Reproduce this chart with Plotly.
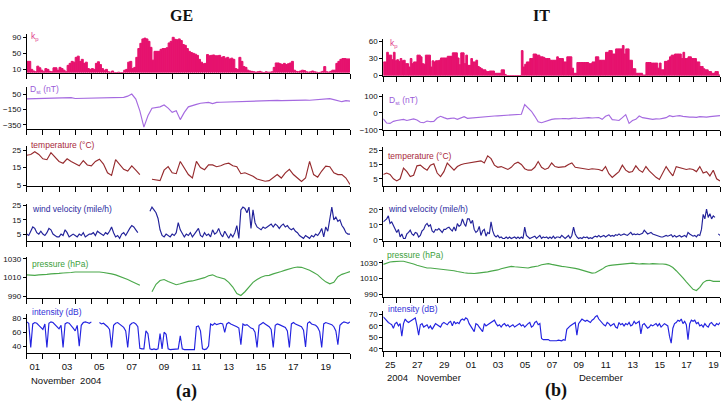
import pandas as pd
import plotly.graph_objects as go

# ---------------- data ----------------
GE_START, GE_END = "2004-11-01", "2004-11-21"
IT_START, IT_END = "2004-11-25", "2004-12-20"

# GE (Nov 2004) ---------------------------------------------------------
ge_kp = [30, 30, 10, 6, 4, 18, 14, 8,
         4, 12, 10, 5, 4, 14, 14, 8,
         15, 12, 8, 4, 20, 25, 30, 28,
         40, 43, 30, 35, 25, 28, 12, 10,
         12, 10, 25, 29, 22, 12, 8, 10,
         4, 3, 6, 2, 2, 3, 2, 2,
         8, 10, 28, 30, 12, 15, 40, 62,
         75, 86, 88, 86, 80, 65, 33, 55,
         55, 55, 60, 62, 62, 64, 76, 80,
         90, 85, 84, 86, 82, 72, 70, 62,
         55, 52, 50, 48, 45, 35, 28, 24,
         25, 47, 44, 45, 46, 44, 44, 45,
         40, 42, 38, 40, 36, 38, 35, 12,
         10, 40, 30, 17, 15, 8, 6, 5,
         4, 3, 4, 5, 3, 2, 4, 3,
         3, 4, 15, 26, 26, 24, 22, 25,
         22, 24, 26, 30, 8, 5, 4, 6,
         8, 7, 4, 3, 4, 6, 4, 3,
         2, 3, 5, 17, 4, 3, 5, 8,
         8, 25, 30, 35, 37, 37, 36, 36]

ge_dst = [-8, -7, -6, -6, -5, -5, -4, -4, -3, -3,
          -2, 8, -3, -2, -2, -1, -1, 0, 0, 2,
          4, 6, 8, 10, 12, 28, 55, -10, -165, -380,
          -230, -131, -122, -113, -88, -130, -186, -165, -281, -186,
          -113, -92, -80, -65, -60, -55, -70, -55, -52, -50,
          -48, -47, -46, -45, -42, -40, -40, -38, -36, -34,
          -30, -22, -28, -30, -28, -30, -32, -30, -26, -24,
          -26, -22, -20, -16, -12, -5, -18, -35, -45, -32,
          -38]

ge_temp = [22, 22.5, 24, 22.5, 20, 19.5, 23.5, 21, 18.5, 17.5,
           20, 18.5, 17, 16, 19, 16.5, 16, 18.5, 19.8, 17,
           12, 10.5, 19.5, 17, 14, 13, 16, 13.5, 11, None,
           None, 8.3, 7.8, 7.5, 13.5, 15.5, 12, 11.5, 18.5, 15,
           11, 9, 18.5, 15, 13.8, 16.5, 16.5, 15.5, 16, 17,
           17.5, 16, 15.5, 11.5, 12, 11, 10, 8.5, 8, 7.2,
           7.5, 9, 11, 9, 12, 14, 11, 9, 7, 9,
           18.5, 11, 9.5, 13, 15.8, 15.5, 12, 11, 11, 9,
           5.3]

ge_wind = [5, 4, 7, 10, 9, 6, 5, 7,
           5, 4, 6, 9, 8, 5, 4, 3,
           3, 5, 4, 8, 6, 3, 4, 5,
           4, 3, 5, 4, 6, 3, 4, 5,
           5, 6, 4, 7, 6, 5, 4, 6,
           5, 7, 10, 6, 3, 4, 2, 5,
           6, 4, 7, 9, 11, 10, 8, 6,
           None, None, 9, None, None, 21, 24, 22,
           20, 16, 8, 4, 3, 5, 4, 3,
           5, 4, 6, 13, 8, 5, 3, 5,
           4, 6, 3, 5, 7, 9, 4, 3,
           6, 4, 5, 3, 8, 5, 6, 9,
           5, 3, 7, 4, 2, 5, 3, 6,
           11, 2, 22, 24, 23, 20, 24, 9,
           22, 13, 10, 9, 8, 10, 9, 10,
           11, 12, 10, 12, 11, 9, 11, 12,
           10, 11, 9, 8, 9, 7, 6, 4,
           3, 2, 4, 3, 2, 4, 3, 5,
           4, 6, 9, 3, 10, 7, 16, 24,
           15, 17, 14, 15, 11, 9, 6, 5,
           5]

ge_pres = [1013, 1012.5, 1012.5, 1013, 1013, 1013.5, 1014, 1014, 1014.5, 1015,
           1015, 1015.5, 1016, 1016, 1016, 1016, 1016.5, 1016, 1016, 1015.5,
           1015, 1014, 1013, 1011.5, 1010, 1008, 1006, 1004, 1002, None,
           None, 995, 1003, 1007, 1008, 1006, 1004, 1002.5, 1003.5, 1005,
           1006, 1006.5, 1007.5, 1008.5, 1010, 1012, 1013, 1011, 1010, 1008.5,
           1005, 1000, 993, 991, 995, 1000, 1005, 1008, 1010.5, 1012,
           1012.5, 1014, 1015, 1016.5, 1018, 1019.5, 1020.5, 1021.3, 1021, 1019.5,
           1018, 1015.5, 1013, 1009, 1005.5, 1003.5, 1005, 1011, 1013.5, 1015,
           1016.4]

ge_int = [75, 73, 38, 72, 74, 73, 70, 67,
          64, 72, 38, 73, 75, 74, 71, 68,
          65, 70, 38, 72, 74, 73, 70, 66,
          62, 70, 40, 70, 74, 75, 74, 73,
          75, None, None, None, 74, 72, 73, 71,
          68, 64, 38, 70, 73, 74, 72, 70,
          67, 62, 38, 70, 73, 74, 72, 68,
          37, 36, 36, 62, 58, 36, 35, 36,
          35, 36, 58, 36, 60, 57, 36, 35,
          35, 36, 35, 36, 55, 36, 35, 35,
          35, 35, 36, 35, 68, 69, 62, 36,
          35, 36, 40, 72, 70, 73, 71, 72,
          73, 72, 60, 72, 74, 72, 71, 70,
          68, 66, 42, 72, 70, 71, 68, 66,
          65, 60, 38, 70, 72, 74, 72, 70,
          68, 64, 38, 70, 72, 71, 70, 69,
          67, 62, 38, 72, 74, 72, 71, 70,
          68, 63, 39, 73, 75, 72, 71, 70,
          67, 61, 38, 72, 74, 73, 72, 71,
          68, 62, 42, 70, 73, 75, 74, 73,
          75]

# IT (Nov 25 - Dec 19 2004) ----------------------------------------------
it_kp = [24, 24, 41, 36, 36, 28, 41, 26,
         28, 25, 30, 26, 27, 21, 21, 15,
         30, 21, 24, 24, 36, 36, 33, 21,
         20, 36, 36, 36, 15, 26, 24, 26,
         26, 27, 31, 31, 31, 31, 34, 34,
         34, 40, 40, 40, 31, 19, 40, 40,
         21, 36, 18, 18, 30, 24, 24, 27,
         16, 14, 12, 10, 10, 7, 7, 8,
         8, 8, 4, 4, 4, 4, 10, 10,
         2, 0, 0, 0, 0, 0, 0, 0,
         0, 0, 44, 15, 20, 24, 24, 30,
         30, 38, 38, 36, 36, 33, 33, 32,
         30, 30, 30, 27, 27, 27, 27, 33,
         30, 30, 30, 24, 24, 33, 33, 33,
         13, 4, 4, 23, 23, 23, 23, 23,
         23, 23, 21, 21, 24, 24, 33, 33,
         27, 27, 27, 27, 41, 41, 44, 44,
         38, 38, 47, 47, 47, 47, 53, 38,
         47, 47, 27, 27, 12, 12, 4, 4,
         4, 4, 1, 1, 23, 23, 23, 22,
         22, 22, 22, 13, 22, 10, 10, 25,
         25, 27, 33, 36, 36, 38, 38, 38,
         38, 30, 41, 30, 30, 33, 33, 30,
         30, 30, 24, 24, 16, 16, 12, 10,
         10, 7, 7, 4, 4, 7, 7, 1]

it_dst = [-35, -60, -62, -50, -45, -40, -38, -45, -40, -35,
          -42, -55, -58, -48, -52, -50, -30, -20, -28, -35,
          -32, -30, -38, -28, -22, -32, -30, -27, -25, -22,
          -20, -21, -20, -18, -17, -16, -15, -14, -14, -13,
          -12, -8, 50, 28, 10, -20, -52, -58, -50, -45,
          -38, -35, -36, -34, -33, -35, -32, -30, -33, -31,
          -27, -28, -30, -28, -27, -38, -20, -12, -40, -42,
          -45, -28, -10, -62, -45, -38, -18, -28, -32, -34,
          -38, -35, -36, -32, -28, -16, -22, -18, -16, -20,
          -24, -25, -25, -26, -22, -24, -25, -22, -20, -18,
          -16]

it_temp = [8, 9, 8, 5, 3.5, 5, 12.5, 10, 6.5, 7.5,
           14, 14.5, 12.5, 11, 14.5, 15.5, 9, 6.5, 10, 16,
           13.5, 11, 13.5, 14.8, 15.5, 16, 16, 16.5, 17, 17.5,
           16, 21, 19, 14.5, 13, 13.5, 12.5, 11.5, 13, 15.5,
           16.5, 15, 12, 11, 11, 13, 17, 13, 11.5, 12.5,
           16, 13.5, 13, 13, 13.5, 15, 16, 13, 12.5, 12,
           11.5, 11.5, 12, 12, 11.5, 10.5, 13.5, 8.5, 6, 8,
           10, 14.5, 11, 9.5, 10, 14, 11, 9.5, 13.5, 10.5,
           8, 6, 4.5, 9, 13.5, 10, 7, 13.5, 13, 12.5,
           11.5, 12, 11.5, 10, 13.5, 9, 10, 7, 11, 5,
           3.5]

it_wind = [12, 13, 14, 16, 11, 12, 10, 7.5,
           5, 7, 2, 4, 1, 1, 4, 5,
           6.5, 4, 3, 5, 4.5, 2, 3, 6,
           7, 9.8, 11, 9, 10, 6, 5, 7,
           6.5, 7.5, 6, 5, 7, 7, 8, 8.5,
           7, 6, 8.7, 6, 10.9, 9, 10, 14,
           11, 9, 14, 14, 11, 13, 7, 5,
           6, 9, 3, 6, 7, 2.5, 5, 4,
           12, 6, 3, 2, 3, 1.5, 2, 1,
           1, 2, 1, 2, 1, 1.5, 2, 1,
           2, 1, 2, 1, 8.5, 3, 2, 1,
           1.5, 2, 2.5, 1, 2, 3, 1, 2,
           1.5, 2, 1, 2, 1, 2.5, 1, 2,
           2, 1.5, 3, 2, 1, 2, 3, 1,
           3, 8.5, 4, 2, 1, 1.5, 1, 2,
           1.5, 2, 1, 1.5, 1, 2, 2.5, 2,
           3, 2, 2.5, 3, 2, 3, 3.5, 2.5,
           3, 2.5, 3.5, 3, 4, 3, 3.5, 4,
           3.5, 3, 4, 5, 3.5, 4, 3.5, 4,
           3.5, 4, 4.5, 6.5, 5, 4, 4.5, 5,
           4, 3.5, 3, 3, 2.5, 2, 2, 2.5,
           3, 2.5, 3, 3.5, 2, 3, 2, 2.5,
           3, 2, 2.5, 3, 2, 5, 4, 3,
           2.5, 3, 2, 3.5, 3, 7, 17, 14,
           20.5, 15, 17.5, 14, 16, 15, None, 4,
           3]

it_pres = [1028, 1030, 1031, 1031.5, 1032, 1032, 1032, 1031, 1030, 1028.5,
           1027, 1025.5, 1024, 1023.5, 1023.5, 1023, 1023, 1022.5, 1022, 1021,
           1020.5, 1020, 1019, 1018, 1017.5, 1017, 1016.5, 1016.5, 1017, 1017.5,
           1017.5, 1018.5, 1019.5, 1020, 1021, 1022.5, 1023.5, 1025, 1025.5, 1025,
           1024.5, 1024, 1024, 1023.5, 1024.5, 1025, 1026, 1027.5, 1028.5, 1029,
           1028, 1027, 1026, 1025.5, 1025, 1024.5, 1023.5, 1023, 1022, 1021,
           1019.5, 1018, 1017, 1017.5, 1019.5, 1022, 1025, 1026.5, 1027, 1027.5,
           1028, 1028.5, 1029, 1029, 1029.5, 1029, 1028.5, 1029, 1028.5, 1028.5,
           1029, 1028.5, 1028.5, 1028.5, 1028, 1026.5, 1024, 1020, 1016, 1011,
           1006, 1001, 996.5, 995, 999, 1005, 1007.5, 1008, 1006.5, 1006.5,
           1006.5]

it_int = [68, 66, 64, 63, 62, 61, 58, 62,
          63, 60, 62, 51, 62, 66, 64, 63,
          64, 65, 66, 67, 60, 52, 61, 62,
          59, 60, 61, 58, 60, 57, 60, 62,
          61, 60, 59, 62, 63, 62, 61, 63,
          64, 60, 64, 62, 63, 62, 65, 66,
          65, 67, 66, 62, 60, 58, 55, 62,
          61, 59, 57, 55, 62, 60, 61, 62,
          63, 64, 65, 62, 60, 61, 59, 61,
          62, 60, 61, 59, 60, 61, 59, 60,
          61, 62, 60, 61, 59, 61, 62, 63,
          59, 60, 63, 64, 61, 62, 49, 48,
          48, 47.5, 48, 47, 47, 46.5, 46.5, 47,
          47.5, 47, 47, 48, 47.5, 57, 59, 60,
          61, 62, 63, 52, 62, 64, 66, 65,
          64, 65, 64, 63, 65, 66, 68, 69,
          66, 64, 62, 61, 60, 63, 62, 60,
          61, 62, 59, 58, 63, 61, 62, 60,
          62, 61, 63, 60, 61, 64, 62, 63,
          64, 53, 61, 62, 60, 58, 59, 61,
          60, 61, 62, 60, 62, 59, 61, 62,
          61, 60, 51, 45, 58, 62, 63, 65,
          64, 66, 62, 64, 61, 48, 62, 65,
          64, 65, 62, 63, 60, 61, 59, 62,
          60, 59, 62, 63, 61, 60, 62, 61,
          63]

# ---------------- styling / layout ----------------
W, H = 727, 408
SANS = "Liberation Sans, Arial, sans-serif"
SERIF = "Liberation Serif, Times New Roman, serif"

C_KP, C_KP_T = "#e6126e", "#e0408a"
C_DST, C_DST_T = "#a56ae0", "#9a5ad8"
C_TMP, C_TMP_T = "#962b2e", "#a8283a"
C_WND, C_WND_T = "#22229a", "#2a2aa0"
C_PRS, C_PRS_T = "#4aa84a", "#3aa03a"
C_INT, C_INT_T = "#2323e0", "#3030d8"

COLS = {0: dict(x=(26.7, 350.0), start=GE_START, end=GE_END),
        1: dict(x=(383.3, 720.0), start=IT_START, end=IT_END)}

# col, kind, values, freq, color, calibration (v_hi, y_hi, v_lo, y_lo), top, bottom, ticks, label, label pos, label color
panels = [
    (0, "bar", ge_kp, "3h", C_KP, (90, 35.0, 10, 67.7), 32, 71, [10, 50, 90], "k<sub>p</sub>", (29, 34), C_KP_T),
    (0, "line", ge_dst, "6h", C_DST, (50, 93.3, -350, 124.3), 86, 128.3, [-350, -150, 50], "D<sub>st</sub> (nT)", (28, 88), C_DST_T),
    (0, "line", ge_temp, "6h", C_TMP, (25, 150, 5, 185.7), 146, 186.7, [5, 15, 25], "temperature (°C)", (29, 145), C_TMP_T),
    (0, "line", ge_wind, "3h", C_WND, (25, 206.7, 5, 235.7), 205, 242.7, [5, 15, 25], "wind velocity (mile/h)", (30, 210), C_WND_T),
    (0, "line", ge_pres, "6h", C_PRS, (1030, 261, 990, 299.3), 259, 300.7, [990, 1010, 1030], "pressure (hPa)", (30, 266), C_PRS_T),
    (0, "line", ge_int, "3h", C_INT, (80, 321.7, 40, 350), 317, 356.7, [40, 60, 80], "intensity (dB)", (30, 315), C_INT_T),
    (1, "bar", it_kp, "3h", C_KP, (60, 39.3, 0, 74), 37, 74, [0, 30, 60], "k<sub>p</sub>", (388, 41), C_KP_T),
    (1, "line", it_dst, "6h", C_DST, (100, 95, -100, 129.3), 93, 130, [-100, 0, 100], "D<sub>st</sub> (nT)", (387, 99), C_DST_T),
    (1, "line", it_temp, "6h", C_TMP, (25, 150, 5, 179.3), 147, 186.7, [5, 15, 25], "temperature (°C)", (386, 156), C_TMP_T),
    (1, "line", it_wind, "3h", C_WND, (20, 211, 0, 241.7), 208, 242.7, [0, 10, 20], "wind velocity (mile/h)", (386, 210), C_WND_T),
    (1, "line", it_pres, "6h", C_PRS, (1030, 265, 990, 297.3), 262, 299.5, [990, 1010, 1030], "pressure (hPa)", (385, 257), C_PRS_T),
    (1, "line", it_int, "3h", C_INT, (70, 317.7, 40, 352.7), 314, 355, [40, 50, 60, 70], "intensity (dB)", (386, 312), C_INT_T),
]

fig = go.Figure()
layout = dict(width=W, height=H, margin=dict(l=0, r=0, t=0, b=0, pad=0),
              paper_bgcolor="white", plot_bgcolor="white", showlegend=False,
              font=dict(family=SANS, size=8, color="#222"))
annotations = []

for i, (col, kind, vals, freq, color, cal, top, bot, ytv, label, lpos, lcol) in enumerate(panels):
    n = i + 1
    sfx = "" if n == 1 else str(n)
    c = COLS[col]
    t = pd.date_range(c["start"], periods=len(vals), freq=freq)
    if kind == "bar":
        fig.add_trace(go.Bar(x=t, y=vals, width=3 * 3600 * 1000, offset=0,
                             marker=dict(color=color, line=dict(width=1, color=color)),
                             xaxis="x" + sfx, yaxis="y" + sfx))
    else:
        fig.add_trace(go.Scatter(x=t, y=vals, mode="lines", connectgaps=False,
                                 line=dict(color=color, width=1.15),
                                 xaxis="x" + sfx, yaxis="y" + sfx))

    v_hi, y_hi, v_lo, y_lo = cal
    s = (v_hi - v_lo) / (y_lo - y_hi)
    yr = [v_lo - (bot - y_lo) * s, v_hi + (y_hi - top) * s]

    days = pd.date_range(c["start"], c["end"], freq="D")
    bottom_panel = (i % 6 == 5)
    ttext = []
    for j, d in enumerate(days):
        if bottom_panel and d.day % 2 == 1 and j < len(days) - 1:
            ttext.append(f"{d.day:02d}")
        else:
            ttext.append("")
    x0, x1 = c["x"]
    day_px = (x1 - x0) / (len(days) - 1)
    layout["xaxis" + sfx] = dict(
        domain=[x0 / W, x1 / W], range=[c["start"], c["end"]], type="date",
        anchor="y" + sfx, tickmode="array", tickvals=list(days), ticktext=ttext,
        showticklabels=bottom_panel,
        ticks="outside", ticklen=5, tickwidth=1, tickcolor="black",
        ticklabelshift=int(round(day_px / 2)), tickfont=dict(size=9.5, color="#111", family=SANS),
        showline=True, linecolor="black", linewidth=1, showgrid=False, zeroline=False,
        fixedrange=True)
    layout["yaxis" + sfx] = dict(
        domain=[1 - bot / H, 1 - top / H], range=yr, anchor="x" + sfx,
        tickmode="array", tickvals=ytv, ticks="outside", ticklen=3, tickwidth=1,
        tickcolor="black", tickfont=dict(size=8, color="#111", family=SANS),
        showline=True, linecolor="black", linewidth=1, showgrid=False, zeroline=False,
        fixedrange=True)
    annotations.append(dict(text=label, x=lpos[0] / W, y=1 - lpos[1] / H, xref="paper",
                            yref="paper", xanchor="left", yanchor="middle", showarrow=False,
                            font=dict(size=8.5, color=lcol, family=SANS)))

texts = [
    ("<b>GE</b>", 181.7, 13, "center", 16, SERIF),
    ("<b>IT</b>", 541.7, 13, "center", 16, SERIF),
    ("<b>(a)</b>", 186.7, 396.5, "center", 18, SERIF),
    ("<b>(b)</b>", 555.7, 395, "center", 18, SERIF),
    ("November  2004", 29, 385, "left", 9.5, SANS),
    ("2004", 385, 381.7, "left", 9.5, SANS),
    ("November", 415, 381.7, "left", 9.5, SANS),
    ("December", 577, 381.7, "left", 9.5, SANS),
]
for txt, px, py, anc, size, fam in texts:
    annotations.append(dict(text=txt, x=px / W, y=1 - py / H, xref="paper", yref="paper",
                            xanchor=anc, yanchor="middle", showarrow=False,
                            font=dict(size=size, color="#111", family=fam)))

layout["annotations"] = annotations
fig.update_layout(**layout)
fig.write_html("out.html")
